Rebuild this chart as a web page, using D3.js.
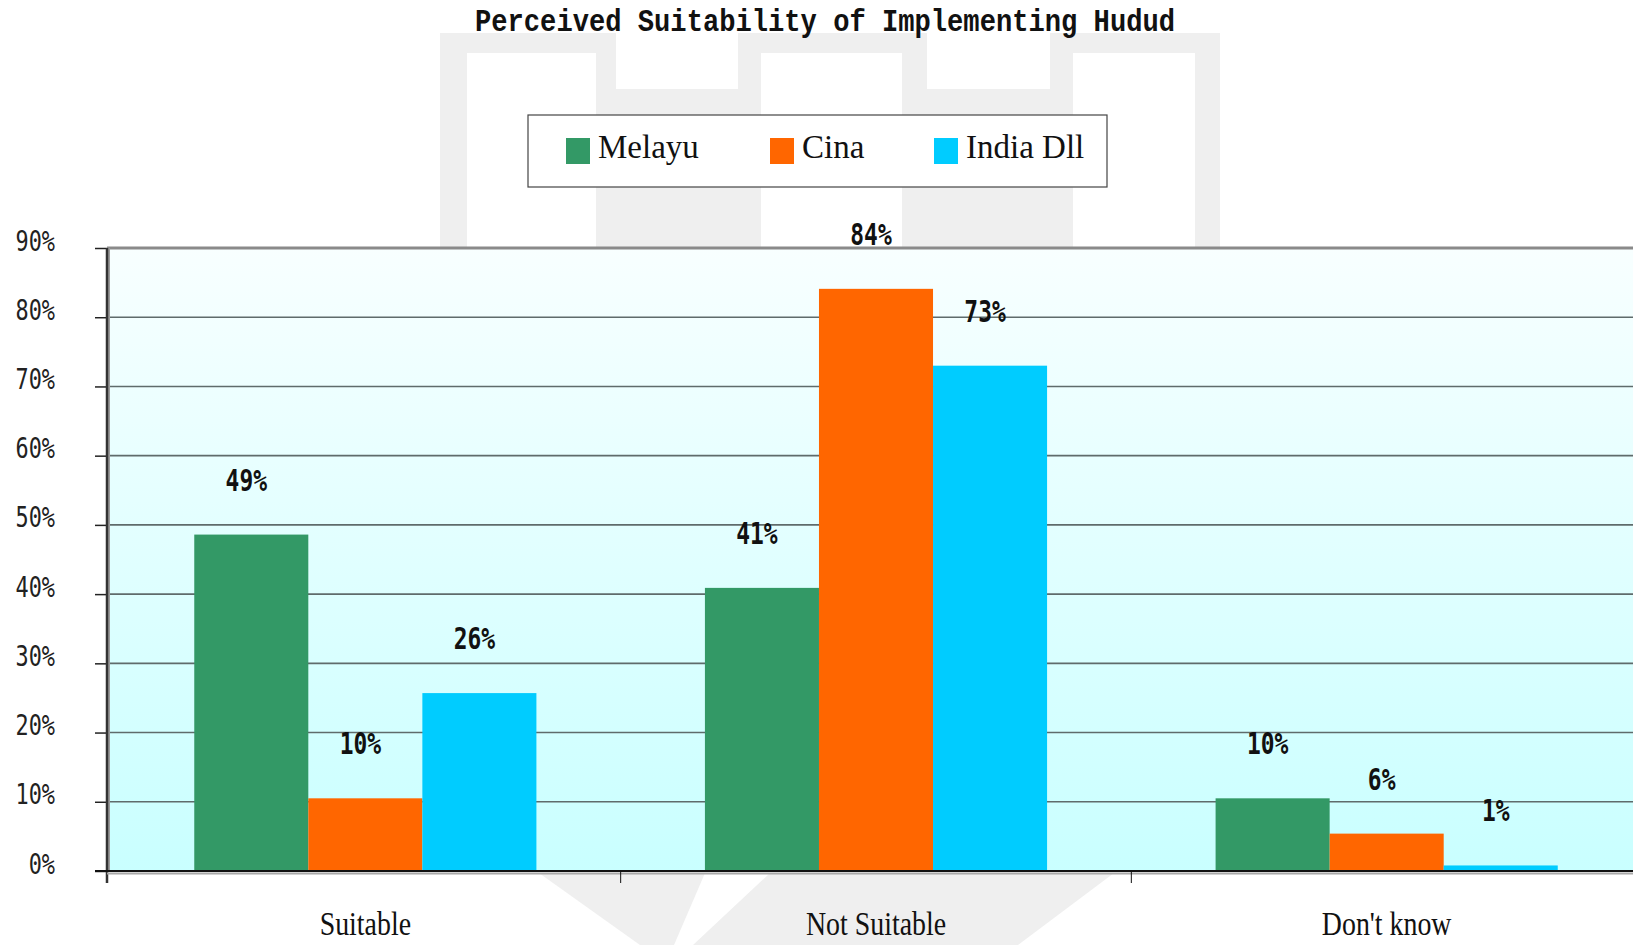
<!DOCTYPE html>
<html>
<head>
<meta charset="utf-8">
<script src="https://cdn.jsdelivr.net/npm/d3@7/dist/d3.min.js"></script>
<style>
  body { margin: 0; background: #fff; }
  svg { display: block; }
</style>
</head>
<body>
<div id="scene"></div>
<script>
// chart data
var categories = ["Suitable", "Not Suitable", "Don't know"];
var seriesNames = ["Melayu", "Cina", "India Dll"];
var melayu = [48.6, 40.9, 10.5];
var cina = [10.5, 84.1, 5.4];
var india = [25.7, 73.0, 0.8];
var melayuLabels = ["49%", "41%", "10%"];
var cinaLabels = ["10%", "84%", "6%"];
var indiaLabels = ["26%", "73%", "1%"];
var yTicks = [0, 10, 20, 30, 40, 50, 60, 70, 80, 90];
var title = "Perceived Suitability of Implementing Hudud";

var colors = ["#339966", "#ff6600", "#00ccff"];

var ctx = {
  w: 1633,
  h: 945,
  left: 107,
  bandLeft: 110,
  bandRight: 1642,
  top: 248,
  bottom: 871
};

var svg = d3.select("#scene").append("svg")
  .attr("width", ctx.w)
  .attr("height", ctx.h);

var defs = svg.append("defs");
var grad = defs.append("linearGradient")
  .attr("id", "plotBg")
  .attr("x1", 0).attr("y1", 0).attr("x2", 0).attr("y2", 1);
grad.append("stop").attr("offset", "0%").attr("stop-color", "#f8ffff");
grad.append("stop").attr("offset", "100%").attr("stop-color", "#c9ffff");

// faint watermark behind the chart
var wm = svg.append("g").attr("fill", "#efefef");
wm.append("path").attr("d",
  "M440,33 H616 V89 H738 V33 H927 V89 H1050 V33 H1220 V248 H1195 V53 H1073 V248 H902 V53 H761 V248 H596 V53 H467 V248 H440 Z");
wm.append("path").attr("d", "M539,873 H705 L674,945 H640 Z");
wm.append("path").attr("d", "M770,873 H1114 L1018,945 H693 Z");

// scales
var x0 = d3.scaleBand()
  .domain(categories)
  .range([ctx.bandLeft, ctx.bandRight])
  .padding(0);

var groupPad = x0.bandwidth() * 0.165;
var x1 = d3.scaleBand()
  .domain(seriesNames)
  .range([groupPad, x0.bandwidth() - groupPad])
  .padding(0);

var y = d3.scaleLinear()
  .domain([0, 90])
  .range([ctx.bottom, ctx.top]);

// plot background
svg.append("rect")
  .attr("x", ctx.left)
  .attr("y", ctx.top)
  .attr("width", ctx.w - ctx.left)
  .attr("height", ctx.bottom - ctx.top)
  .attr("fill", "url(#plotBg)");

// grid lines
svg.append("g")
  .selectAll("line")
  .data(yTicks.filter(function (d) { return d > 0 && d < 90; }))
  .enter()
  .append("line")
  .attr("x1", ctx.left)
  .attr("x2", ctx.w)
  .attr("y1", function (d) { return y(d); })
  .attr("y2", function (d) { return y(d); })
  .attr("stroke", "#5f6b6b")
  .attr("stroke-width", 1.6);

// top border
svg.append("line")
  .attr("x1", ctx.left).attr("x2", ctx.w)
  .attr("y1", y(90)).attr("y2", y(90))
  .attr("stroke", "#8a8a8a")
  .attr("stroke-width", 3);

// y axis
var yAxis = d3.axisLeft(y)
  .tickValues(yTicks)
  .tickSize(12)
  .tickFormat("");
var yG = svg.append("g")
  .attr("transform", "translate(" + ctx.left + ",0)")
  .call(yAxis);
yG.select(".domain").remove();
yG.selectAll(".tick line").attr("stroke", "#222").attr("stroke-width", 1.5);

yG.selectAll(".tick")
  .append("text")
  .attr("fill", "#222")
  .attr("font-family", "'DejaVu Sans Mono', monospace")
  .attr("font-size", 28)
  .attr("text-anchor", "end")
  .attr("transform", "translate(-52,2) scale(0.78,1)")
  .text(function (d) { return d + "%"; });

// bars
var seriesData = [melayu, cina, india];
var seriesLabels = [melayuLabels, cinaLabels, indiaLabels];

var groups = svg.append("g")
  .selectAll("g")
  .data(categories)
  .enter()
  .append("g")
  .attr("transform", function (d) { return "translate(" + x0(d) + ",0)"; });

var barData = function (d, i) {
  return seriesNames.map(function (s, j) {
    return { series: s, value: seriesData[j][i], label: seriesLabels[j][i], color: colors[j] };
  });
};

groups.selectAll("rect")
  .data(barData)
  .enter()
  .append("rect")
  .attr("x", function (d) { return x1(d.series); })
  .attr("y", function (d) { return y(d.value); })
  .attr("width", x1.bandwidth())
  .attr("height", function (d) { return y(0) - y(d.value); })
  .attr("fill", function (d) { return d.color; });

// left axis line
svg.append("line")
  .attr("x1", ctx.left + 2).attr("x2", ctx.left + 2)
  .attr("y1", ctx.top).attr("y2", ctx.bottom)
  .attr("stroke", "#9a9a9a").attr("stroke-width", 2);
svg.append("line")
  .attr("x1", ctx.left).attr("x2", ctx.left)
  .attr("y1", ctx.top).attr("y2", ctx.bottom + 12)
  .attr("stroke", "#333").attr("stroke-width", 2.5);

// bottom axis
svg.append("line")
  .attr("x1", ctx.left).attr("x2", ctx.w)
  .attr("y1", ctx.bottom + 2.5).attr("y2", ctx.bottom + 2.5)
  .attr("stroke", "#a8a8a8").attr("stroke-width", 2);
svg.append("line")
  .attr("x1", ctx.left - 12).attr("x2", ctx.w)
  .attr("y1", ctx.bottom).attr("y2", ctx.bottom)
  .attr("stroke", "#111").attr("stroke-width", 2);

// category ticks between groups
svg.append("g")
  .selectAll("line")
  .data(categories.slice(1))
  .enter()
  .append("line")
  .attr("x1", function (d) { return x0(d); })
  .attr("x2", function (d) { return x0(d); })
  .attr("y1", ctx.bottom)
  .attr("y2", ctx.bottom + 12)
  .attr("stroke", "#111")
  .attr("stroke-width", 1);

// category labels
svg.append("g")
  .selectAll("text")
  .data(categories)
  .enter()
  .append("text")
  .attr("transform", function (d) {
    return "translate(" + (x0(d) + x0.bandwidth() / 2) + ",935) scale(0.82,1)";
  })
  .attr("text-anchor", "middle")
  .attr("font-family", "'Liberation Serif', serif")
  .attr("font-size", 34)
  .attr("fill", "#111")
  .text(function (d) { return d; });

// value labels
groups.selectAll("text")
  .data(barData)
  .enter()
  .append("text")
  .attr("transform", function (d) {
    var cx = x1(d.series) + x1.bandwidth() / 2 - 5;
    return "translate(" + cx + "," + (y(d.value) - 44) + ") scale(0.74,1)";
  })
  .attr("text-anchor", "middle")
  .attr("font-family", "'DejaVu Sans Mono', monospace")
  .attr("font-weight", "bold")
  .attr("font-size", 31)
  .attr("fill", "#111")
  .text(function (d) { return d.label; });

// legend
var legend = svg.append("g");
legend.append("rect")
  .attr("x", 528).attr("y", 115)
  .attr("width", 579).attr("height", 72)
  .attr("fill", "#fff")
  .attr("stroke", "#444")
  .attr("stroke-width", 1.2);

var legendXs = { "Melayu": 566, "Cina": 770, "India Dll": 934 };

var items = legend.selectAll("g.item")
  .data(seriesNames)
  .enter()
  .append("g")
  .attr("class", "item")
  .attr("transform", function (d) { return "translate(" + legendXs[d] + ",0)"; });

items.append("rect")
  .attr("x", 0).attr("y", 138)
  .attr("width", 24).attr("height", 26)
  .attr("fill", function (d, i) { return colors[i]; });

items.append("text")
  .attr("x", 32).attr("y", 158)
  .attr("font-family", "'Liberation Serif', serif")
  .attr("font-size", 33)
  .attr("fill", "#111")
  .text(function (d) { return d; });

// title
svg.append("text")
  .attr("x", 475)
  .attr("y", 31)
  .attr("font-family", "'Liberation Mono', monospace")
  .attr("font-weight", "bold")
  .attr("font-size", 31)
  .attr("textLength", 700)
  .attr("lengthAdjust", "spacingAndGlyphs")
  .attr("fill", "#111")
  .text(title);
</script>
</body>
</html>
